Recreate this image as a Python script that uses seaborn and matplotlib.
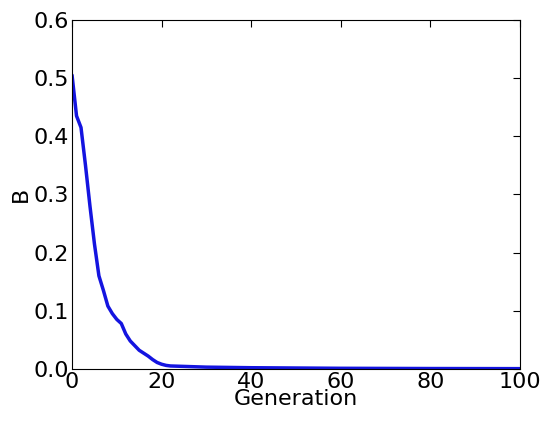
import matplotlib
matplotlib.use("Agg")
import matplotlib.pyplot as plt
import seaborn as sns
import pandas as pd

generation = [0,1,2,3,4,5,6,7,8,9,10,11,12,13,14,15,16,17,18,19,20,21,22,24,26,30,35,40,50,60,70,80,90,100]
b_values = [0.505,0.435,0.415,0.35,0.28,0.215,0.16,0.135,0.108,0.095,0.085,0.078,0.06,0.048,0.04,0.032,0.027,0.022,0.016,0.011,0.008,0.006,0.005,0.0045,0.004,0.003,0.0025,0.002,0.0015,0.001,0.0008,0.0006,0.0005,0.0004]

df = pd.DataFrame({"Generation": generation, "B": b_values})
sns.set_style("white")
plt.rcParams['font.family'] = ['DejaVu Sans']
plt.rcParams['text.color'] = 'black'
plt.rcParams['axes.labelcolor'] = 'black'
plt.rcParams['xtick.color'] = 'black'
plt.rcParams['ytick.color'] = 'black'
fig = plt.figure(figsize=(5.5, 4.24), dpi=100)
ax = fig.add_axes([0.131, 0.13, 0.814, 0.823])
sns.lineplot(data=df, x="Generation", y="B", color="#1414e0", linewidth=2.5, ax=ax)
ax.set_xlim(0, 100)
ax.set_ylim(0, 0.6)
ax.set_xticks([0,20,40,60,80,100])
ax.set_yticks([0,0.1,0.2,0.3,0.4,0.5,0.6])
ax.set_yticklabels(["0.0","0.1","0.2","0.3","0.4","0.5","0.6"])
ax.tick_params(labelsize=16, direction="in", length=5, top=True, right=True, pad=2, colors="black")
ax.set_xlabel("Generation", fontsize=16, labelpad=-2)
ax.set_ylabel("B", fontsize=16, labelpad=2)
for s in ax.spines.values():
    s.set_color("black"); s.set_linewidth(0.8)
fig.savefig("out.png", dpi=100)
